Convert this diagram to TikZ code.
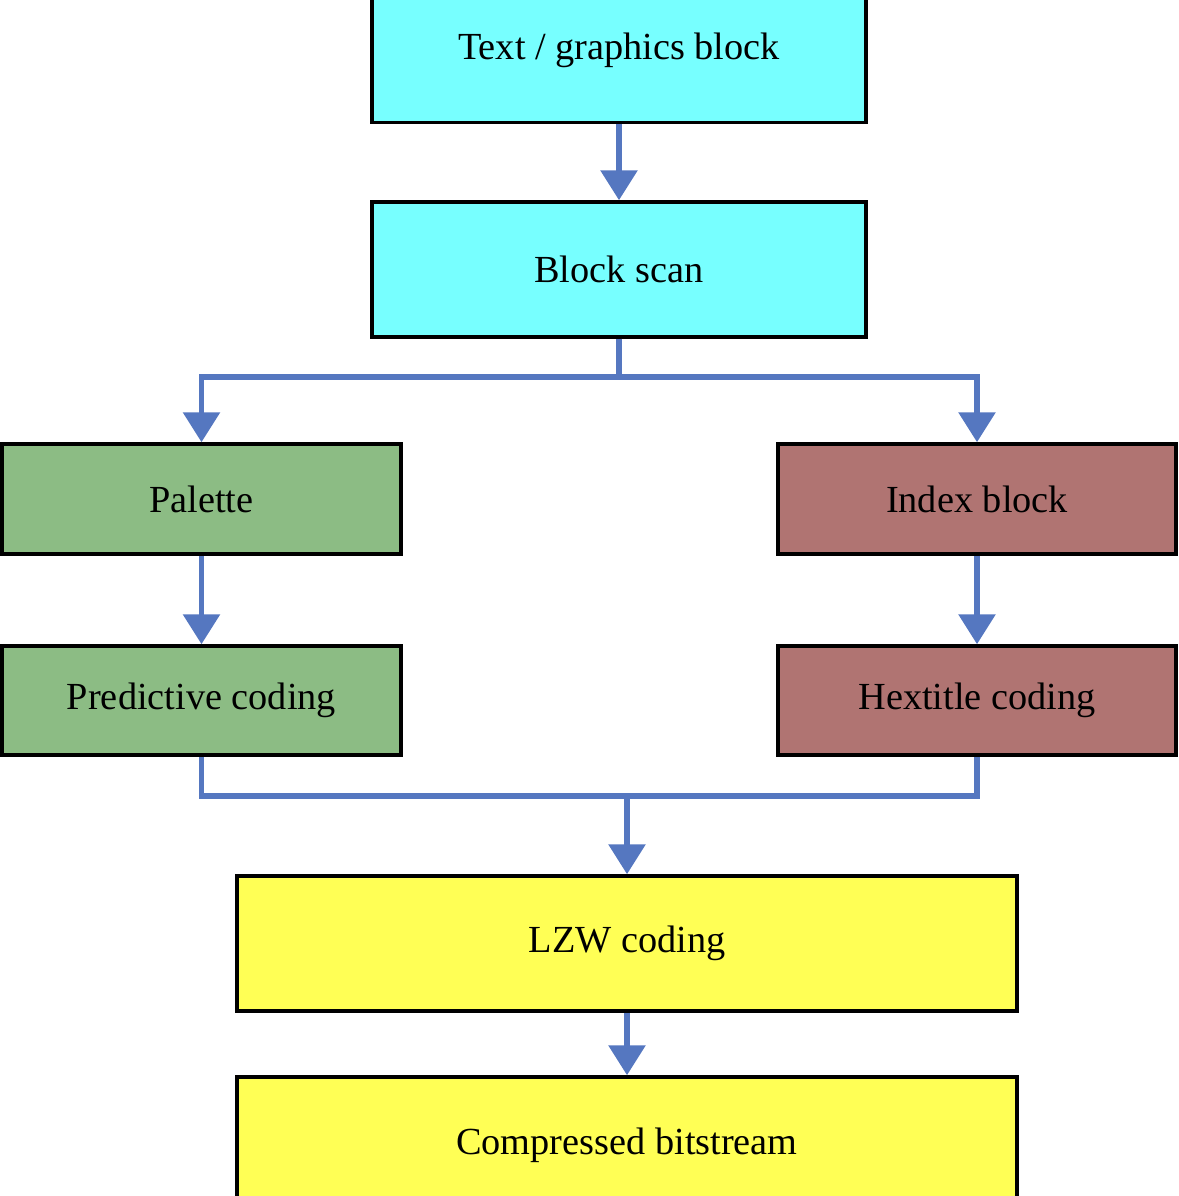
\documentclass[tikz,border=0pt]{standalone}
\usepackage{fontspec}
\setmainfont{Liberation Serif}
\usetikzlibrary{arrows.meta}
\definecolor{cy}{HTML}{77FFFF}
\definecolor{gr}{HTML}{8CBC84}
\definecolor{br}{HTML}{B07472}
\definecolor{ye}{HTML}{FFFF55}
\definecolor{ar}{HTML}{5577C0}
\begin{document}
\begin{tikzpicture}[x=0.02cm,y=-0.02cm,
  box/.style={draw=black,line width=2pt,inner sep=0pt,font=\fontsize{21.8}{24}\selectfont},
  conn/.style={draw=ar,line width=3.4pt},
  arr/.style={conn,-{Triangle[width=0.72cm,length=0.6cm]}}]
\useasboundingbox (0,0) rectangle (1179,1196);
\clip (0,0) rectangle (1179,1196);
\node[box,fill=cy,minimum width=9.88cm,minimum height=2.9cm] (t) at (619,50) {Text / graphics block};
\node[box,fill=cy,minimum width=9.88cm,minimum height=2.7cm] (b) at (619,269.5) {Block scan};
\node[box,fill=gr,minimum width=7.98cm,minimum height=2.2cm] (p) at (201.5,499) {Palette};
\node[box,fill=br,minimum width=7.96cm,minimum height=2.2cm] (i) at (977,499) {Index block};
\node[box,fill=gr,minimum width=7.98cm,minimum height=2.18cm] (pc) at (201.5,700.5) {Predictive coding};
\node[box,fill=br,minimum width=7.96cm,minimum height=2.18cm] (h) at (977,700.5) {Hextitle coding};
\node[box,fill=ye,minimum width=15.6cm,minimum height=2.7cm] (l) at (627,943.5) {LZW coding};
\node[box,fill=ye,minimum width=15.6cm,minimum height=2.72cm] (c) at (627,1145) {Compressed bitstream};
\coordinate (s) at (619,377);
\coordinate (m) at (627,796);
\draw[arr] (t) -- (b);
\draw[conn] (b.south) -- (s);
\draw[arr] (s) -| (p.north);
\draw[arr] (s) -| (i.north);
\draw[arr] (p) -- (pc);
\draw[arr] (i) -- (h);
\draw[conn] (pc.south) |- (m);
\draw[conn] (h.south) |- (m);
\draw[arr] (m) -- (l.north);
\draw[arr] (l) -- (c);
\end{tikzpicture}
\end{document}
